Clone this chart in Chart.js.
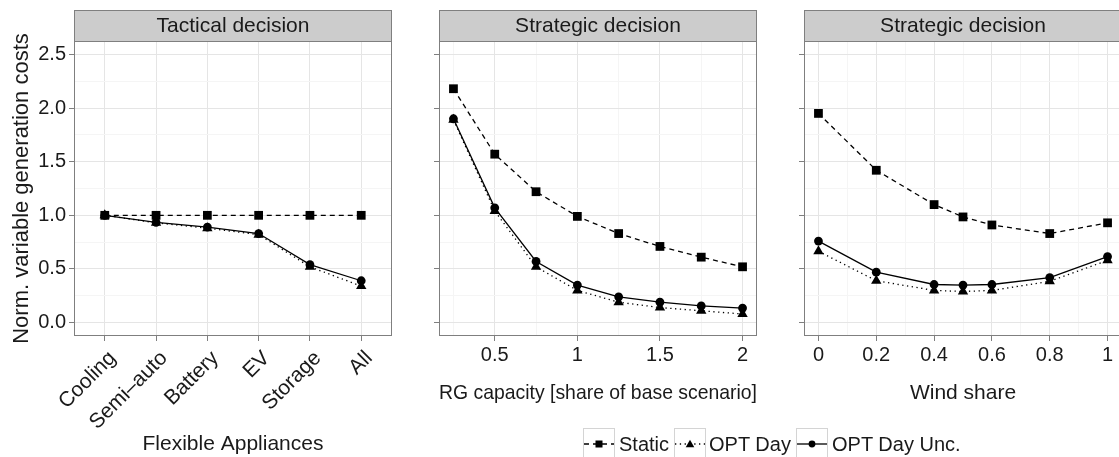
<!DOCTYPE html>
<html>
<head>
<meta charset="utf-8">
<script src="https://cdn.jsdelivr.net/npm/chart.js@4.4.1/dist/chart.umd.min.js"></script>
<style>
  html, body { margin: 0; padding: 0; background: #fff; overflow: hidden; }
  #wrap { position: relative; width: 1119px; height: 457px; overflow: hidden;
          font-family: "Liberation Sans", Arial, sans-serif; }
  canvas { position: absolute; top: 0; }
  .key { position: absolute; top: 428px; width: 30px; height: 30px; border: 1px solid #d4d4d4; background: #fff; }
  .key svg { display: block; }
  .lab { position: absolute; top: 432px; font-size: 20px; line-height: 24px; color: #1a1a1a; white-space: nowrap; }
</style>
</head>
<body>
<div id="wrap">
  <canvas id="p1" width="400" height="457" style="left:0px"></canvas>
  <canvas id="p2" width="365" height="457" style="left:400px"></canvas>
  <canvas id="p3" width="365" height="457" style="left:765px"></canvas>

  <div class="key" style="left:583px"><svg width="30" height="30">
    <line x1="0" y1="15" x2="30" y2="15" stroke="#000" stroke-width="1.3" stroke-dasharray="5 4"/>
    <rect x="11.5" y="11.5" width="7" height="7" fill="#000"/></svg></div>
  <div class="lab" style="left:619px">Static</div>
  <div class="key" style="left:674px"><svg width="30" height="30">
    <line x1="0" y1="15" x2="30" y2="15" stroke="#000" stroke-width="1.3" stroke-dasharray="1.3 3.5"/>
    <polygon points="15,10.8 19.3,18.2 10.7,18.2" fill="#000"/></svg></div>
  <div class="lab" style="left:709px">OPT Day</div>
  <div class="key" style="left:796px"><svg width="30" height="30">
    <line x1="0" y1="15" x2="30" y2="15" stroke="#000" stroke-width="1.3"/>
    <circle cx="15" cy="15" r="3.4" fill="#000"/></svg></div>
  <div class="lab" style="left:832px">OPT Day Unc.</div>
</div>
<script>
// ---- data ----
const seriesNames = ['Static', 'OPT Day', 'OPT Day Unc.'];

const tacticalCats = ['Cooling', 'Semi–auto', 'Battery', 'EV', 'Storage', 'All'];
const tacticalStatic = [1.0, 1.0, 1.0, 1.0, 1.0, 1.0];
const tacticalOptDay = [1.0, 0.93, 0.88, 0.82, 0.52, 0.34];
const tacticalOptUnc = [1.0, 0.935, 0.89, 0.83, 0.54, 0.39];

const rgCapacity = [0.25, 0.5, 0.75, 1, 1.25, 1.5, 1.75, 2];
const rgStatic = [2.18, 1.57, 1.22, 0.99, 0.83, 0.71, 0.61, 0.52];
const rgOptDay = [1.89, 1.04, 0.52, 0.30, 0.19, 0.14, 0.11, 0.08];
const rgOptUnc = [1.90, 1.07, 0.57, 0.35, 0.24, 0.19, 0.155, 0.135];

const windShare = [0, 0.2, 0.4, 0.5, 0.6, 0.8, 1];
const windStatic = [1.95, 1.42, 1.10, 0.985, 0.91, 0.83, 0.93];
const windOptDay = [0.665, 0.39, 0.30, 0.29, 0.30, 0.385, 0.58];
const windOptUnc = [0.76, 0.47, 0.355, 0.35, 0.355, 0.42, 0.615];

const yTicks = [0, 0.5, 1, 1.5, 2, 2.5];
const yMinor = [0.25, 0.75, 1.25, 1.75, 2.25];
const tacticalTicks = [0, 1, 2, 3, 4, 5];
const rgTicks = [0.5, 1, 1.5, 2];
const rgMinor = [0.25, 0.75, 1.25, 1.75];
const windTicks = [0, 0.2, 0.4, 0.6, 0.8, 1];
const windMinor = [0.1, 0.3, 0.5, 0.7, 0.9];

const FONT = '"Liberation Sans", Arial, sans-serif';
Chart.defaults.font.family = FONT;
Chart.defaults.color = '#1a1a1a';

// grey strip on top + panel border (ggplot facet look)
const stripPlugin = {
  id: 'strip',
  afterDraw(chart, args, opts) {
    const {ctx, chartArea: a} = chart;
    ctx.save();
    ctx.fillStyle = '#cccccc';
    ctx.fillRect(a.left, 10, a.right - a.left, a.top - 10);
    ctx.strokeStyle = '#7f7f7f';
    ctx.lineWidth = 1;
    ctx.strokeRect(a.left + 0.5, 10.5, a.right - a.left - 1, a.top - 10);
    ctx.strokeRect(a.left + 0.5, a.top + 0.5, a.right - a.left - 1, a.bottom - a.top - 1);
    ctx.fillStyle = '#1a1a1a';
    ctx.font = '21px ' + FONT;
    ctx.textAlign = 'center';
    ctx.textBaseline = 'middle';
    ctx.fillText(opts.text, (a.left + a.right) / 2, (10 + a.top) / 2 + 1);
    ctx.restore();
  }
};

function toPoints(xs, ys) {
  return xs.map((x, i) => ({x: x, y: ys[i]}));
}

function makeDatasets(xs, s, d, u) {
  const base = {borderColor: '#000', backgroundColor: '#000', borderWidth: 1.3,
                pointBorderWidth: 0, fill: false, tension: 0};
  return [
    Object.assign({}, base, {label: seriesNames[0], data: toPoints(xs, s), borderDash: [5, 4],
                             pointStyle: 'rect', pointRadius: 6.2}),
    Object.assign({}, base, {label: seriesNames[1], data: toPoints(xs, d), borderDash: [1.3, 3.5],
                             pointStyle: 'triangle', pointRadius: 6}),
    Object.assign({}, base, {label: seriesNames[2], data: toPoints(xs, u),
                             pointStyle: 'circle', pointRadius: 4.4})
  ];
}

function gridOpts(major) {
  return {
    color: c => major.includes(c.tick.value) ? '#e5e5e5' : '#f5f5f5',
    tickColor: c => major.includes(c.tick.value) ? '#7f7f7f' : 'rgba(0,0,0,0)',
    tickLength: 5,
    lineWidth: 1
  };
}

function makePanel(id, p) {
  const yAll = yTicks.concat(yMinor).sort((a, b) => a - b);
  const xAll = p.xMajor.concat(p.xMinor).sort((a, b) => a - b);
  return new Chart(document.getElementById(id), {
    type: 'line',
    data: {datasets: makeDatasets(p.xs, p.s, p.d, p.u)},
    options: {
      responsive: false,
      animation: false,
      devicePixelRatio: 1,
      layout: {padding: {left: 0, top: 41, right: 8, bottom: 0}},
      plugins: {legend: {display: false}, tooltip: {enabled: false}, strip: {text: p.strip}},
      scales: {
        x: {
          type: 'linear', min: p.xMin, max: p.xMax,
          afterBuildTicks: sc => { sc.ticks = xAll.map(v => ({value: v})); },
          afterFit: sc => { sc.height = 121; sc.paddingLeft = 0; sc.paddingRight = 0; },
          grid: gridOpts(p.xMajor),
          border: {display: false},
          ticks: {
            autoSkip: false, padding: p.tickPad, labelOffset: p.labelOffset, color: '#1a1a1a',
            font: {size: p.tickSize},
            minRotation: p.rot, maxRotation: p.rot,
            callback: v => p.xMajor.includes(v) ? p.fmt(v) : ''
          },
          title: {display: true, text: p.xTitle, font: {size: 21}, color: '#1a1a1a',
                  padding: {top: 0, bottom: p.titlePad}}
        },
        y: {
          type: 'linear', min: -0.125, max: 2.625,
          afterBuildTicks: sc => { sc.ticks = yAll.map(v => ({value: v})); },
          afterFit: sc => { sc.width = p.yWidth; sc.paddingTop = 0; sc.paddingBottom = 0; },
          grid: gridOpts(yTicks),
          border: {display: false},
          ticks: {
            display: p.yLabels, padding: 3, color: '#1a1a1a', font: {size: 20},
            callback: v => yTicks.includes(v) ? v.toFixed(1) : ''
          },
          title: {display: p.yLabels, text: 'Norm. variable generation costs',
                  font: {size: 22}, color: '#1a1a1a', padding: {top: 8.5, bottom: 0}}
        }
      }
    },
    plugins: [stripPlugin]
  });
}

makePanel('p1', {
  strip: 'Tactical decision', xs: tacticalTicks,
  s: tacticalStatic, d: tacticalOptDay, u: tacticalOptUnc,
  xMin: -0.6, xMax: 5.6, xMajor: tacticalTicks, xMinor: [], rot: 45,
  tickSize: 21, tickPad: 5, labelOffset: 8,
  fmt: v => tacticalCats[v], xTitle: 'Flexible Appliances', titlePad: 0,
  yWidth: 74, yLabels: true
});
makePanel('p2', {
  strip: 'Strategic decision', xs: rgCapacity,
  s: rgStatic, d: rgOptDay, u: rgOptUnc,
  xMin: 0.1625, xMax: 2.0875, xMajor: rgTicks, xMinor: rgMinor, rot: 0,
  tickSize: 20, tickPad: 2, labelOffset: 0,
  fmt: v => String(v), xTitle: 'RG capacity [share of base scenario]', titlePad: 51,
  yWidth: 39, yLabels: false
});
makePanel('p3', {
  strip: 'Strategic decision', xs: windShare,
  s: windStatic, d: windOptDay, u: windOptUnc,
  xMin: -0.05, xMax: 1.05, xMajor: windTicks, xMinor: windMinor, rot: 0,
  tickSize: 20, tickPad: 2, labelOffset: 0,
  fmt: v => String(v), xTitle: 'Wind share', titlePad: 51,
  yWidth: 39, yLabels: false
});
</script>
</body>
</html>
